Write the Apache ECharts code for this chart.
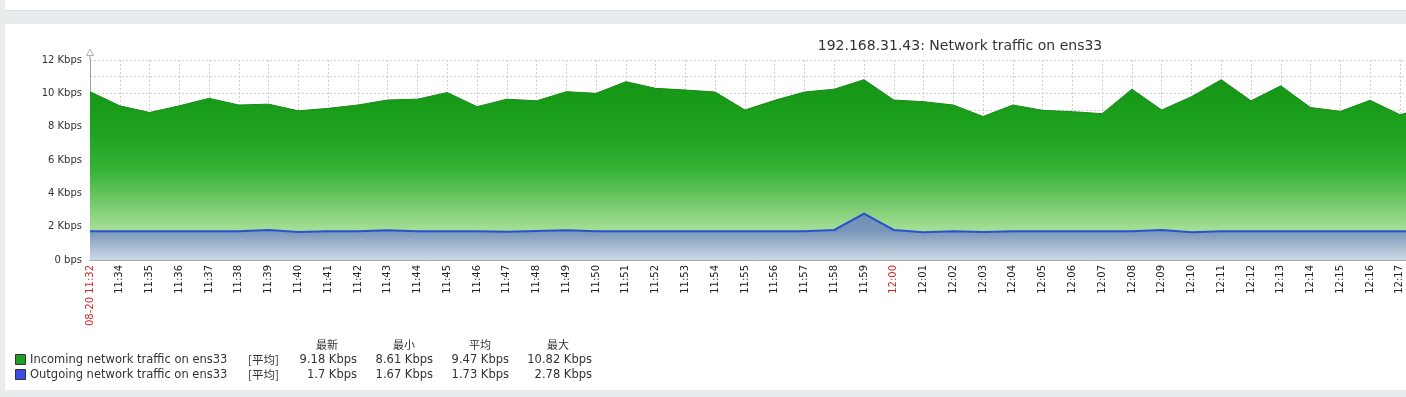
<!DOCTYPE html>
<html>
<head>
<meta charset="utf-8">
<script src="https://cdn.jsdelivr.net/npm/echarts@6/dist/echarts.min.js"></script>
<style>
  html, body { margin: 0; padding: 0; width: 1406px; height: 397px; overflow: hidden; background: #e9ecec; }
  #topbar { position: absolute; left: 5px; top: 0; width: 1401px; height: 10px; background: #ffffff; border-bottom: 1px solid #dcdfe0; }
  #panel { position: absolute; left: 5px; top: 24px; width: 1401px; height: 366px; background: #ffffff; }
  #chart { position: absolute; left: 0; top: 0; width: 1460px; height: 397px; }
</style>
</head>
<body>
<div id="topbar"></div>
<div id="panel"></div>
<div id="chart"></div>
<script>
// ---- data ----
const chartTitle = '192.168.31.43: Network traffic on ens33';
const categories = ['08-20 11:32','11:34','11:35','11:36','11:37','11:38','11:39','11:40','11:41','11:42','11:43','11:44','11:45','11:46','11:47','11:48','11:49','11:50','11:51','11:52','11:53','11:54','11:55','11:56','11:57','11:58','11:59','12:00','12:01','12:02','12:03','12:04','12:05','12:06','12:07','12:08','12:09','12:10','12:11','12:12','12:13','12:14','12:15','12:16','12:17','12:18'];
const redLabels = ['08-20 11:32','12:00'];
const incoming = [10.10,9.25,8.85,9.25,9.70,9.30,9.35,8.95,9.10,9.30,9.60,9.65,10.05,9.20,9.65,9.55,10.10,10.00,10.70,10.30,10.20,10.08,9.00,9.58,10.08,10.25,10.82,9.60,9.50,9.30,8.61,9.30,8.98,8.90,8.78,10.25,9.00,9.80,10.82,9.55,10.45,9.15,8.92,9.58,8.72,9.18];
const outgoing = [1.72,1.72,1.72,1.72,1.72,1.73,1.80,1.68,1.72,1.73,1.78,1.72,1.72,1.72,1.69,1.74,1.78,1.72,1.72,1.72,1.72,1.72,1.72,1.72,1.72,1.80,2.78,1.80,1.67,1.72,1.68,1.72,1.72,1.72,1.72,1.72,1.80,1.67,1.72,1.72,1.72,1.72,1.72,1.72,1.72,1.70];
const yTickValues = [0,2,4,6,8,10,12];
const yTickLabels = ['0 bps','2 Kbps','4 Kbps','6 Kbps','8 Kbps','10 Kbps','12 Kbps'];
const seriesNames = ['Incoming network traffic on ens33','Outgoing network traffic on ens33'];
const seriesColors = ['#1f9e1f','#3c4ee6'];
const funcLabel = '[平均]';
const statHeaders = ['最新','最小','平均','最大'];
const statsIncoming = ['9.18 Kbps','8.61 Kbps','9.47 Kbps','10.82 Kbps'];
const statsOutgoing = ['1.7 Kbps','1.67 Kbps','1.73 Kbps','2.78 Kbps'];

// ---- chart ----
const chart = echarts.init(document.getElementById('chart'), null, { renderer: 'canvas' });
const FONT = '"DejaVu Sans", sans-serif';
const CJK = '"Noto Sans CJK SC", "DejaVu Sans", sans-serif';

const graphics = [];
// y-axis arrow extension
graphics.push({ type: 'line', shape: { x1: 90, y1: 60, x2: 90, y2: 53 }, style: { stroke: '#a0a0a0', lineWidth: 1 }, z: 10 });
graphics.push({ type: 'polygon', shape: { points: [[86.5, 55.5], [90, 49], [93.5, 55.5]] }, style: { fill: '#ffffff', stroke: '#b0b0b0', lineWidth: 1 }, z: 10 });

// legend block
const colRight = [357, 433, 509, 592];
const headerCenter = [327, 404, 480, 558];
statHeaders.forEach((h, i) => {
  graphics.push({ type: 'text', x: headerCenter[i], y: 345, style: { text: h, fill: '#333', font: '11px ' + CJK, textAlign: 'center', textVerticalAlign: 'middle' } });
});
const rows = [statsIncoming, statsOutgoing];
rows.forEach((stats, r) => {
  const y = 360 + r * 15;
  graphics.push({ type: 'rect', shape: { x: 15.5, y: y - 5.5, width: 10, height: 10 }, style: { fill: seriesColors[r], stroke: '#333', lineWidth: 1 } });
  graphics.push({ type: 'text', x: 30, y: y, style: { text: seriesNames[r], fill: '#333', font: '11.5px ' + FONT, textVerticalAlign: 'middle' } });
  graphics.push({ type: 'text', x: 248, y: y, style: { text: funcLabel, fill: '#333', font: '11.5px ' + CJK, textVerticalAlign: 'middle' } });
  stats.forEach((s, i) => {
    graphics.push({ type: 'text', x: colRight[i], y: y, style: { text: s, fill: '#333', font: '11.5px ' + FONT, textAlign: 'right', textVerticalAlign: 'middle' } });
  });
});

const option = {
  animation: false,
  backgroundColor: 'transparent',
  title: {
    text: chartTitle, left: 955, top: 34, textAlign: 'center',
    textStyle: { fontFamily: FONT, fontSize: 14, fontWeight: 'normal', color: '#333' }
  },
  grid: { left: 90, top: 60, width: 1339.65, height: 200, containLabel: false },
  xAxis: {
    type: 'category', data: categories, boundaryGap: false,
    axisLine: { show: true, lineStyle: { color: '#a8a8a8', width: 1 } },
    axisTick: { show: true, interval: 0, length: 3, inside: true, lineStyle: { color: '#999' } },
    axisLabel: {
      interval: 0, rotate: 90, margin: 5, fontSize: 10, fontFamily: FONT,
      color: (v) => redLabels.includes(v) ? '#cc2a2a' : '#222'
    },
    splitLine: { show: true, interval: 0, lineStyle: { color: '#cfcfcf', type: [2, 2], width: 1 } }
  },
  yAxis: {
    type: 'value', min: 0, max: 12, interval: 1,
    axisLine: { show: true, lineStyle: { color: '#a0a0a0', width: 1 } },
    axisTick: { show: false },
    axisLabel: {
      margin: 8, fontSize: 10, fontFamily: FONT, color: '#333',
      formatter: (v) => { const i = yTickValues.indexOf(v); return i >= 0 ? yTickLabels[i] : ''; }
    },
    splitLine: { show: true, lineStyle: { color: '#cfcfcf', type: [2, 2], width: 1 } }
  },
  series: [
    {
      name: seriesNames[0], type: 'line', data: incoming, symbol: 'none', z: 2,
      lineStyle: { color: '#178a17', width: 1 },
      areaStyle: {
        opacity: 1,
        color: new echarts.graphic.LinearGradient(0, 0, 0, 1, [
          { offset: 0, color: '#159515' },
          { offset: 0.3, color: '#1ea320' },
          { offset: 0.5, color: '#36b336' },
          { offset: 0.7, color: '#7acc70' },
          { offset: 0.82, color: '#a3dc93' },
          { offset: 1, color: '#c8ecbd' }
        ])
      }
    },
    {
      name: seriesNames[1], type: 'line', data: outgoing, symbol: 'none', z: 3,
      lineStyle: { color: '#2a52d0', width: 2 },
      areaStyle: {
        opacity: 1,
        color: new echarts.graphic.LinearGradient(0, 0, 0, 1, [
          { offset: 0, color: '#6f8db6' },
          { offset: 0.38, color: '#7a96ba' },
          { offset: 1, color: '#ccdae4' }
        ])
      }
    }
  ],
  graphic: graphics
};
chart.setOption(option);
</script>
</body>
</html>
